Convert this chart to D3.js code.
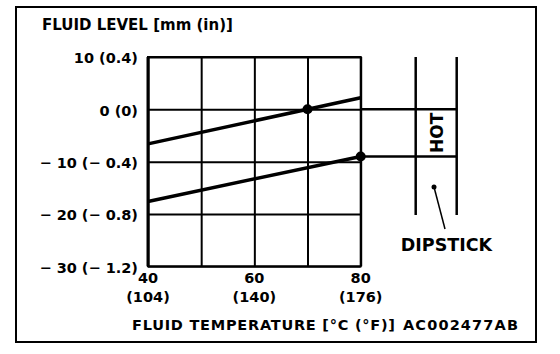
<!DOCTYPE html>
<html>
<head>
<meta charset="utf-8">
<script src="https://cdn.jsdelivr.net/npm/d3@7"></script>
<style>
  body { margin: 0; background: #fff; }
  svg { font-family: "DejaVu Sans", sans-serif; font-weight: bold; }
  .tick text { fill: #000; }
</style>
</head>
<body>
<svg id="chart" width="560" height="354"></svg>
<script>
// data
let gridTemps = [40, 50, 60, 70, 80];
let labelTemps = [40, 60, 80];
let labelTempsF = ["(104)", "(140)", "(176)"];
let levelTicks = [10, 0, -10, -20, -30];
let levelLabels = ["10 (0.4)", "0 (0)", "− 10 (− 0.4)", "− 20 (− 0.8)", "− 30 (− 1.2)"];

let upperTemps = [40, 80];
let upperLevels = [-6.6, 2.2];
let lowerTemps = [40, 80];
let lowerLevels = [-17.6, -9.0];

let markTemps = [70, 80];
let markLevels = [0, -9.0];

let svg = d3.select("#chart");

let plotLeft = 148, plotRight = 360.7, plotTop = 57, plotBottom = 266.3;

let xScale = d3.scaleLinear().domain([40, 80]).range([plotLeft, plotRight]);
let yScale = d3.scaleLinear().domain([-30, 10]).range([plotBottom, plotTop]);

// outer frame
svg.append("rect")
   .attr("x", 16).attr("y", 7)
   .attr("width", 520).attr("height", 335)
   .attr("fill", "none").attr("stroke", "#000").attr("stroke-width", 2);

// horizontal grid + level labels
let yAxis = d3.axisLeft(yScale)
              .tickValues(levelTicks)
              .tickSize(-(plotRight - plotLeft))
              .tickPadding(10)
              .tickFormat((d, i) => levelLabels[i]);

let yG = svg.append("g")
            .attr("transform", `translate(${plotLeft}, 0)`)
            .call(yAxis);
yG.select(".domain").remove();
yG.selectAll(".tick line").attr("stroke", "#000").attr("stroke-width", 2).attr("x1", 0);
yG.selectAll(".tick text")
  .attr("font-size", 14.5)
  .attr("font-family", "DejaVu Sans")
  .attr("font-weight", "bold")
  .attr("dy", "0.4em")
  .attr("x", -10);

// vertical grid + temperature labels
let xAxis = d3.axisBottom(xScale)
              .tickValues(gridTemps)
              .tickSize(-(plotBottom - plotTop))
              .tickFormat("");

let xG = svg.append("g")
            .attr("transform", `translate(0, ${plotBottom})`)
            .call(xAxis);
xG.select(".domain").remove();
xG.selectAll(".tick line").attr("stroke", "#000").attr("stroke-width", 2);

let xLabels = svg.append("g")
                 .selectAll("text")
                 .data(labelTemps)
                 .enter()
                 .append("text")
                 .attr("text-anchor", "middle")
                 .attr("font-size", 14.5);
xLabels.append("tspan")
       .attr("x", d => xScale(d))
       .attr("y", 283)
       .text(d => d);
xLabels.append("tspan")
       .attr("x", d => xScale(d))
       .attr("y", 302)
       .text((d, i) => labelTempsF[i]);

// plot border (thicker on the left)
svg.append("rect")
   .attr("x", plotLeft).attr("y", plotTop)
   .attr("width", plotRight - plotLeft).attr("height", plotBottom - plotTop)
   .attr("fill", "none").attr("stroke", "#000").attr("stroke-width", 2);
svg.append("line")
   .attr("x1", plotLeft).attr("x2", plotLeft)
   .attr("y1", plotTop).attr("y2", plotBottom)
   .attr("stroke", "#000").attr("stroke-width", 3);

// dipstick
let stickL = 415.7, stickR = 456.7;
[stickL, stickR].forEach(x => {
  svg.append("line")
     .attr("x1", x).attr("x2", x)
     .attr("y1", plotTop).attr("y2", 215)
     .attr("stroke", "#000").attr("stroke-width", 2.5);
});
markLevels.forEach(v => {
  svg.append("line")
     .attr("x1", plotRight).attr("x2", stickR)
     .attr("y1", yScale(v)).attr("y2", yScale(v))
     .attr("stroke", "#000").attr("stroke-width", 2.5);
});
let hotY = (yScale(markLevels[0]) + yScale(markLevels[1])) / 2;
svg.append("text")
   .attr("transform", `translate(443, ${hotY}) rotate(-90)`)
   .attr("text-anchor", "middle")
   .attr("font-size", 17)
   .text("HOT");

svg.append("circle")
   .attr("cx", 434).attr("cy", 187).attr("r", 2.5).attr("fill", "#000");
svg.append("line")
   .attr("x1", 434).attr("y1", 187)
   .attr("x2", 445).attr("y2", 229)
   .attr("stroke", "#000").attr("stroke-width", 1.5);
svg.append("text")
   .attr("x", 446.5).attr("y", 251)
   .attr("text-anchor", "middle")
   .attr("font-size", 17.5)
   .text("DIPSTICK");

// level lines
let lineGen = d3.line()
                .x(d => xScale(d[0]))
                .y(d => yScale(d[1]));

[[upperTemps, upperLevels], [lowerTemps, lowerLevels]].forEach(s => {
  svg.append("path")
     .datum(s[0].map((t, i) => [t, s[1][i]]))
     .attr("d", lineGen)
     .attr("fill", "none")
     .attr("stroke", "#000")
     .attr("stroke-width", 3.5);
});

svg.selectAll(".mark")
   .data(markTemps)
   .enter()
   .append("circle")
   .attr("class", "mark")
   .attr("cx", d => xScale(d))
   .attr("cy", (d, i) => yScale(markLevels[i]))
   .attr("r", 5)
   .attr("fill", "#000");

// titles
svg.append("text")
   .attr("x", 42).attr("y", 30)
   .attr("font-size", 15)
   .text("FLUID LEVEL [mm (in)]");

svg.append("text")
   .attr("x", 132).attr("y", 330)
   .attr("font-size", 14.5)
   .attr("textLength", 263)
   .text("FLUID TEMPERATURE [°C (°F)]");

svg.append("text")
   .attr("x", 403).attr("y", 330)
   .attr("font-size", 14.5)
   .attr("textLength", 115)
   .text("AC002477AB");
</script>
</body>
</html>
